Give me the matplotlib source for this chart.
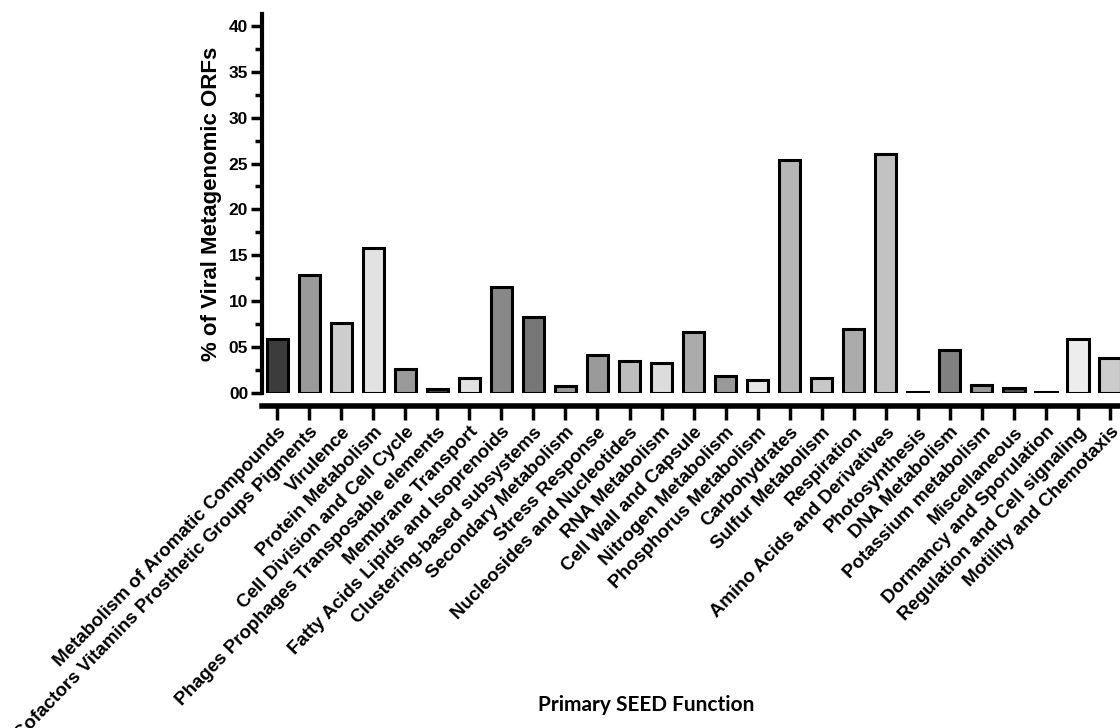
import numpy as np
import matplotlib
matplotlib.use('Agg')
import matplotlib.pyplot as plt
from matplotlib.ticker import MultipleLocator, FuncFormatter

categories = [
    'Metabolism of Aromatic Compounds',
    'Cofactors Vitamins Prosthetic Groups Pigments',
    'Virulence',
    'Protein Metabolism',
    'Cell Division and Cell Cycle',
    'Phages Prophages Transposable elements',
    'Membrane Transport',
    'Fatty Acids Lipids and Isoprenoids',
    'Clustering-based subsystems',
    'Secondary Metabolism',
    'Stress Response',
    'Nucleosides and Nucleotides',
    'RNA Metabolism',
    'Cell Wall and Capsule',
    'Nitrogen Metabolism',
    'Phosphorus Metabolism',
    'Carbohydrates',
    'Sulfur Metabolism',
    'Respiration',
    'Amino Acids and Derivatives',
    'Photosynthesis',
    'DNA Metabolism',
    'Potassium metabolism',
    'Miscellaneous',
    'Dormancy and Sporulation',
    'Regulation and Cell signaling',
    'Motility and Chemotaxis',
]
percent_orfs = [5.9, 12.9, 7.6, 15.8, 2.6, 0.5, 1.7, 11.6, 8.3, 0.8,
                4.2, 3.5, 3.3, 6.7, 1.9, 1.4, 25.4, 1.6, 7.0, 26.0,
                0.1, 4.7, 0.9, 0.6, 0.1, 5.9, 3.8]
bar_grays = ['#3c3c3c', '#9a9a9a', '#cdcdcd', '#e2e2e2', '#9a9a9a', '#444444',
             '#e2e2e2', '#888888', '#777777', '#9a9a9a', '#9a9a9a', '#bdbdbd',
             '#dcdcdc', '#ababab', '#999999', '#e6e6e6', '#b6b6b6', '#c8c8c8',
             '#ababab', '#c2c2c2', '#3c3c3c', '#808080', '#9a9a9a', '#555555',
             '#3c3c3c', '#ededed', '#cccccc']

plt.rcParams['font.family'] = ['Liberation Sans', 'DejaVu Sans']

fig = plt.figure(figsize=(11.2, 7.28), dpi=100)
ax = fig.add_axes([0.234, 0.460, 0.766, 0.521])

x = np.arange(len(categories))
ax.bar(x, percent_orfs, width=0.66, color=bar_grays, edgecolor='black', linewidth=2.2)

ax.set_xlim(-0.47, 26.31)
ax.set_ylim(0, 41.3)

for s in ['top', 'right']:
    ax.spines[s].set_visible(False)
ax.spines['left'].set_linewidth(3)
ax.spines['bottom'].set_linewidth(4)
ax.spines['bottom'].set_position(('outward', 9))
ax.spines['left'].set_bounds(0, 41.3)

ax.yaxis.set_major_locator(MultipleLocator(5))
ax.yaxis.set_minor_locator(MultipleLocator(2.5))
ax.yaxis.set_major_formatter(FuncFormatter(lambda v, p: '%02d' % v))
ax.tick_params(axis='y', which='major', length=8, width=2.5, labelsize=12.5, pad=2)
ax.tick_params(axis='y', which='minor', length=5, width=2.5)
for lab in ax.get_yticklabels():
    lab.set_fontweight('bold')

ax.set_xticks(x)
ax.set_xticklabels(categories, rotation=46, ha='right', va='top',
                   rotation_mode='anchor', fontsize=13.5, fontweight='bold')
ax.tick_params(axis='x', length=10, width=2.5, pad=3)

ax.set_ylabel('% of Viral Metagenomic ORFs', fontsize=16, fontweight='bold', labelpad=5)
fig.text(0.577, 0.032, 'Primary SEED Function', ha='center', va='center',
         fontsize=15, fontweight='bold', family=['Lato', 'DejaVu Sans'])

fig.savefig('out.png', dpi=100)
